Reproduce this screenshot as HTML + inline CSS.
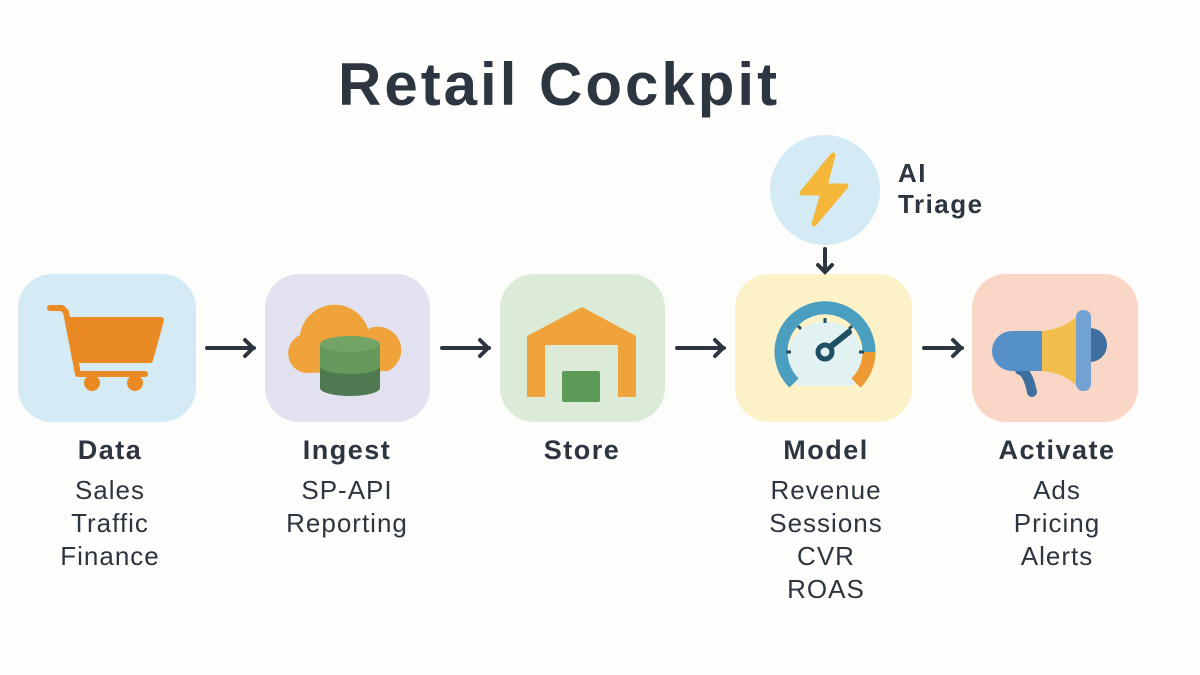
<!DOCTYPE html>
<html><head><meta charset="utf-8"><style>
body{margin:0;width:1200px;height:675px;background:#fdfdfc;font-family:"Liberation Sans","DejaVu Sans",sans-serif;color:#2d3640;overflow:hidden;position:relative}
.lab{position:absolute;text-align:center;width:220px;font-size:26px;line-height:33px;letter-spacing:1px}
.lab b{display:block;font-size:27px;margin-bottom:7px;letter-spacing:1.5px}
</style></head><body>
<div style="position:absolute;left:338px;top:50px;font-size:60px;font-weight:bold;letter-spacing:3px">Retail Cockpit</div>
<svg width="1200" height="675" style="position:absolute;left:0;top:0">
<rect x="18" y="274" width="178" height="148" rx="34" fill="#d4ebf5"/>
<rect x="265" y="274" width="165" height="148" rx="34" fill="#e1e1f0"/>
<rect x="500" y="274" width="165" height="148" rx="34" fill="#dcebd7"/>
<rect x="735" y="274" width="177" height="148" rx="34" fill="#fdf1c7"/>
<rect x="972" y="274" width="166" height="148" rx="34" fill="#f9d6c6"/>
<circle cx="825" cy="190" r="55" fill="#d4ebf5"/>
<path d="M833 155 L802 193 L823 193 L814 224 L846 186 L825 186 Z" fill="#f4b73a" stroke="#f4b73a" stroke-width="5" stroke-linejoin="round"/>
<g stroke="#2d3640" stroke-width="4" fill="none" stroke-linecap="round">
<path d="M207 348H254M245 340l8 8-8 8"/><path d="M442 348H489M480 340l8 8-8 8"/>
<path d="M677 348H724M715 340l8 8-8 8"/><path d="M924 348H962M953 340l8 8-8 8"/>
<path d="M825 249V272M818 265l7 7 7-7"/></g>
<!-- cart -->
<path d="M69 320h92l-11 40h-73z" fill="#ea8a25" stroke="#ea8a25" stroke-width="6" stroke-linejoin="round"/>
<path d="M50 308h12l4 4l12 62h67" stroke="#ea8a25" stroke-width="6" fill="none" stroke-linecap="round" stroke-linejoin="round"/>
<circle cx="92" cy="383" r="8" fill="#ea8a25"/><circle cx="135" cy="383" r="8" fill="#ea8a25"/>
<!-- cloud db -->
<path d="M305 373a20 20 0 0 1 -5-38a35 35 0 0 1 68-6a22 22 0 0 1 20 42z" fill="#f0a23b"/>
<path d="M320 344v44a30 8 0 0 0 60 0v-44z" fill="#4f7a4f"/>
<path d="M320 344v22a30 8 0 0 0 60 0v-22z" fill="#669a5c"/>
<ellipse cx="350" cy="344" rx="30" ry="8" fill="#73a466"/>
<!-- warehouse -->
<path d="M527 336v61h18v-52h73v52h18v-61l-54-29z" fill="#f0a23b"/>
<rect x="562" y="371" width="38" height="31" rx="2" fill="#5c9a58"/>
<!-- gauge -->
<path d="M798 386 A38 38 0 1 1 852 386 Z" fill="#e2f1f2"/>
<path d="M794 383 A44 44 0 1 1 869 352" stroke="#4a9ec0" stroke-width="13" fill="none"/>
<path d="M869 352 A44 44 0 0 1 856 383" stroke="#ee9a33" stroke-width="13" fill="none"/>
<g stroke="#1f4f63" stroke-width="3"><path d="M825 318v5M786 352h5M859 352h5M798 326l3 3M852 326l-3 3"/></g>
<path d="M825 351 L849 332" stroke="#1f4f63" stroke-width="6" stroke-linecap="round"/>
<circle cx="825" cy="352" r="7" fill="#e2f1f2" stroke="#1f4f63" stroke-width="5"/>
<!-- megaphone -->
<path d="M1020 370 q8 2 12 22" stroke="#3e6f9e" stroke-width="10" fill="none" stroke-linecap="round"/>
<path d="M1090 328 a13 13 0 0 1 0 34z" fill="#3e6f9e"/>
<path d="M1042 331v40h-30a20 20 0 0 1 0-40z" fill="#5690c8"/>
<path d="M1042 331 q22 -2 36 -16 v72 q-14 -14 -36 -16z" fill="#f2bf4f"/>
<rect x="1076" y="310" width="15" height="81" rx="7" fill="#72a2d2"/>
</svg>
<div style="position:absolute;left:898px;top:158px;font-size:26px;font-weight:bold;line-height:31px;letter-spacing:1.5px">AI<br>Triage</div>
<div class="lab" style="left:0;top:434px"><b>Data</b>Sales<br>Traffic<br>Finance</div>
<div class="lab" style="left:237px;top:434px"><b>Ingest</b>SP-API<br>Reporting</div>
<div class="lab" style="left:472px;top:434px"><b>Store</b></div>
<div class="lab" style="left:716px;top:434px"><b>Model</b>Revenue<br>Sessions<br>CVR<br>ROAS</div>
<div class="lab" style="left:947px;top:434px"><b>Activate</b>Ads<br>Pricing<br>Alerts</div>
</body></html>
